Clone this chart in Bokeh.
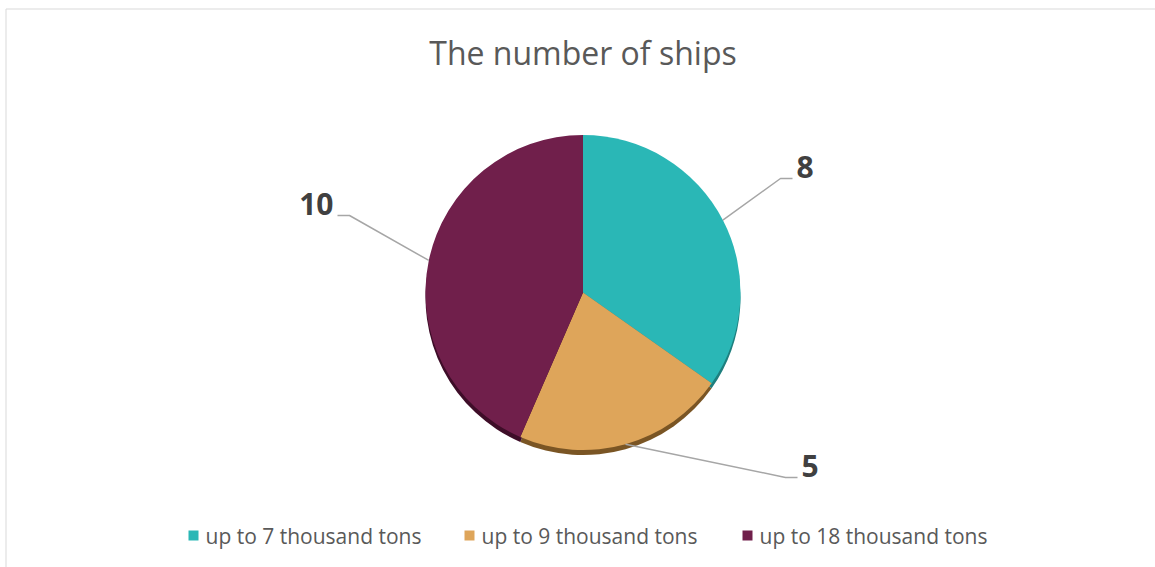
import math
from bokeh.plotting import figure
from bokeh.models import Range1d, ColumnDataSource
from bokeh.core.properties import value
from bokeh.embed import file_html
from bokeh.resources import INLINE

# ---- data ----
title_text = "The number of ships"
categories = ["up to 7 thousand tons", "up to 9 thousand tons", "up to 18 thousand tons"]
counts = [8, 5, 10]
colors = ["#2AB7B6", "#DEA55A", "#701F4B"]
shadow_colors = ["#1E7F7E", "#7A5524", "#3E0D28"]

# ---- layout (pixel coords, y downward) ----
W, H = 1155, 567
def Y(py):
    return H - py

cx, cy, R = 582.5, 292.0, 157.5
# elbow points of leader lines and horizontal direction for each label
elbows = [(780, 178), (785, 477), (349, 215)]
hdir = [1, 1, -1]
hlen = 12
legend_x = [188, 464, 742]
legend_y = 535

p = figure(width=W, height=H, x_range=Range1d(0, W), y_range=Range1d(0, H),
           output_backend="svg", toolbar_location=None, min_border=0)
p.axis.visible = False
p.grid.visible = False
p.outline_line_color = None
p.background_fill_color = "white"
p.border_fill_color = "white"

# chart border
p.quad(left=[5.5], right=[1170], top=[Y(8.5)], bottom=[-20],
       fill_color=None, line_color="#D9D9D9", line_width=1)

# pie angles
total = sum(counts)
starts, ends, mids = [], [], []
cum = 0.0
for v in counts:
    a0 = 90 - cum / total * 360
    cum += v
    a1 = 90 - cum / total * 360
    starts.append(a1)
    ends.append(a0)
    mids.append((a0 + a1) / 2)

src = ColumnDataSource(dict(start=starts, end=ends, color=colors, shadow=shadow_colors,
                            cat=categories, val=counts))

# bottom shadow (bevel) then face
p.wedge(x=cx, y=Y(cy) - 5, radius=R, start_angle="start", end_angle="end",
        start_angle_units="deg", end_angle_units="deg", source=src,
        fill_color="shadow", line_color=None)
p.wedge(x=cx, y=Y(cy), radius=R, start_angle="start", end_angle="end",
        start_angle_units="deg", end_angle_units="deg", source=src,
        fill_color="color", line_color=None)

# leader lines & labels
for i, v in enumerate(counts):
    m = math.radians(mids[i])
    ex = cx + R * math.cos(m)
    ey = Y(cy) + R * math.sin(m)
    bx, by = elbows[i]
    tx = bx + hdir[i] * hlen
    p.line(x=[ex, bx, tx], y=[ey, Y(by), Y(by)], line_color="#A6A6A6", line_width=1.5)
    p.text(x=[tx + hdir[i] * 4], y=[Y(by - 11.5)], text=[str(v)],
           text_font=value("Open Sans"), text_font_style="bold", text_font_size="30px",
           text_color="#404040", text_align="left" if hdir[i] > 0 else "right",
           text_baseline="middle")

# title
p.text(x=[cx], y=[Y(52)], text=[title_text], text_font=value("Open Sans"),
       text_font_size="32px", text_color="#595959", text_align="center",
       text_baseline="middle")

# legend
for i, c in enumerate(categories):
    p.scatter(x=[legend_x[i] + 5], y=[Y(legend_y)], marker="square", size=10,
              fill_color=colors[i], line_color=None)
    p.text(x=[legend_x[i] + 17], y=[Y(legend_y)], text=[c], text_font=value("Open Sans"),
           text_font_size="21px", text_color="#595959", text_align="left",
           text_baseline="middle")

open("out.html", "w").write(file_html(p, INLINE))
